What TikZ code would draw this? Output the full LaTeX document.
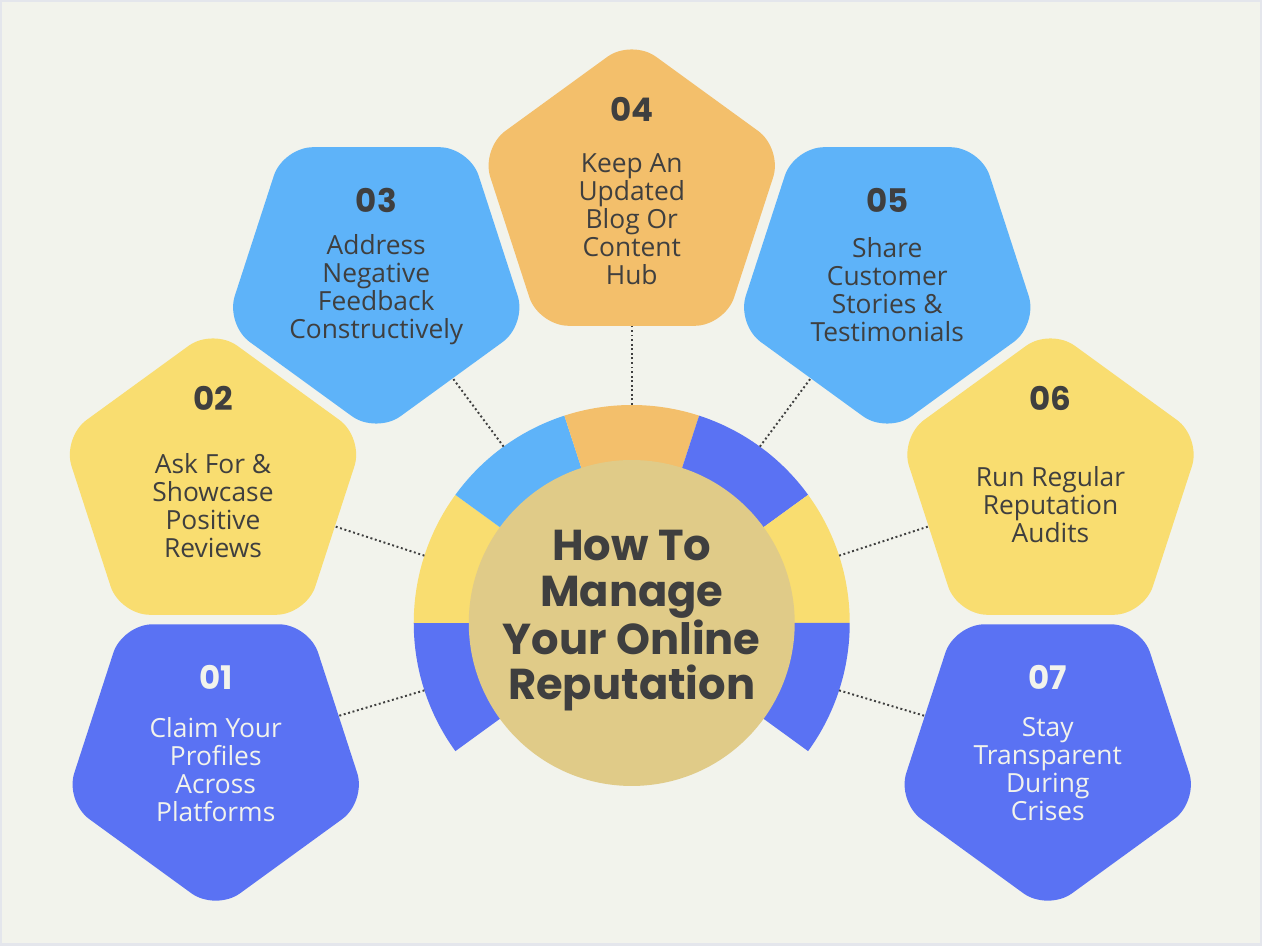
\documentclass[tikz,border=0pt]{standalone}
\usepackage{fontspec}
\setmainfont{Open Sans}
\newfontfamily\headfont{Poppins}
\usepackage{tikz}
\usetikzlibrary{shapes.geometric}

\definecolor{bgcol}{HTML}{F2F3EC}
\definecolor{framecol}{HTML}{E4E6EC}
\definecolor{royal}{HTML}{5A72F3}
\definecolor{sky}{HTML}{5EB3F9}
\definecolor{amber}{HTML}{F3BF6B}
\definecolor{lemon}{HTML}{F9DD70}
\definecolor{sand}{HTML}{E0CB88}
\definecolor{ink}{HTML}{3F3F3F}

\begin{document}
\begin{tikzpicture}
    [x=0.02cm, y=0.02cm,
    pent/.style={regular polygon, regular polygon sides=5, minimum size=6.34cm, inner sep=0pt, outer sep=0pt, rounded corners=0.6cm},
    dpent/.style={pent, shape border rotate=180},
    hub/.style={circle, fill=sand, minimum size=6.52cm, inner sep=0pt},
    title/.style={font=\headfont\bfseries\fontsize{24.6}{25.8}\selectfont, text=ink, align=center},
    num/.style={font=\headfont\bfseries\fontsize{18.5}{20}\selectfont, text=ink},
    txt/.style={font=\fontsize{15}{15.9}\selectfont, text=ink, align=center},
    link/.style={draw=ink, line width=1.1pt, dash pattern=on 1.1pt off 1.5pt}]
    \fill[framecol] (-631.75,-323) rectangle (630.25,623);
    \fill[bgcol] (-629.25,-320.5) rectangle (627.75,620.5);
    \begin{scope}
    \fill[royal] (0,0) -- (180:218) arc[start angle=180, end angle=216, radius=218] -- cycle;
    \fill[lemon] (0,0) -- (144:218) arc[start angle=144, end angle=180, radius=218] -- cycle;
    \fill[sky] (0,0) -- (108:218) arc[start angle=108, end angle=144, radius=218] -- cycle;
    \fill[amber] (0,0) -- (72:218) arc[start angle=72, end angle=108, radius=218] -- cycle;
    \fill[royal] (0,0) -- (36:218) arc[start angle=36, end angle=72, radius=218] -- cycle;
    \fill[lemon] (0,0) -- (0:218) arc[start angle=0, end angle=36, radius=218] -- cycle;
    \fill[royal] (0,0) -- (-36:218) arc[start angle=-36, end angle=0, radius=218] -- cycle;
    \node[hub] (hub) at (0,0) {};
    \node[title] (head) at (0,2) {How To\\Manage\\Your Online\\Reputation};
    \end{scope}
    \node[dpent, fill=royal] (p1) at (-416,-129.5) {};
    \node[pent, fill=lemon] (p2) at (-418.75,136.4) {};
    \node[dpent, fill=sky] (p3) at (-255.5,347.6) {};
    \node[pent, fill=amber] (p4) at (0,425.4) {};
    \node[dpent, fill=sky] (p5) at (255.5,347.6) {};
    \node[pent, fill=lemon] (p6) at (418.75,136.4) {};
    \node[dpent, fill=royal] (p7) at (416,-129.5) {};
    \node[num, text=bgcol] (n1) at (-416,-54) {01};
    \node[txt, text=bgcol] (t1) at (-416,-147) {Claim Your\\Profiles\\Across\\Platforms};
    \node[num] (n2) at (-418.75,225) {02};
    \node[txt] (t2) at (-418.75,117.5) {Ask For \&\\Showcase\\Positive\\Reviews};
    \node[num] (n3) at (-255.5,423) {03};
    \node[txt] (t3) at (-255.5,333) {Address\\Negative\\Feedback\\Constructively};
    \node[num] (n4) at (0,514) {04};
    \node[txt] (t4) at (0,404) {Keep An\\Updated\\Blog Or\\Content\\Hub};
    \node[num] (n5) at (255.5,423) {05};
    \node[txt] (t5) at (255.5,333) {Share\\Customer\\Stories \&\\Testimonials};
    \node[num] (n6) at (418.75,225) {06};
    \node[txt] (t6) at (418.75,118) {Run Regular\\Reputation\\Audits};
    \node[num, text=bgcol] (n7) at (416,-54) {07};
    \node[txt, text=bgcol] (t7) at (416,-146) {Stay\\Transparent\\During\\Crises};
    \coordinate (r1) at (198:218);
    \coordinate (r2) at (162:218);
    \coordinate (r3) at (126:218);
    \coordinate (r4) at (90:218);
    \coordinate (r5) at (54:218);
    \coordinate (r6) at (18:218);
    \coordinate (r7) at (-18:218);
    \draw[link] (r1) -- (p1);
    \draw[link] (r2) -- (p2);
    \draw[link] (r3) -- (p3);
    \draw[link] (r4) -- (p4);
    \draw[link] (r5) -- (p5);
    \draw[link] (r6) -- (p6);
    \draw[link] (r7) -- (p7);
\end{tikzpicture}
\end{document}
